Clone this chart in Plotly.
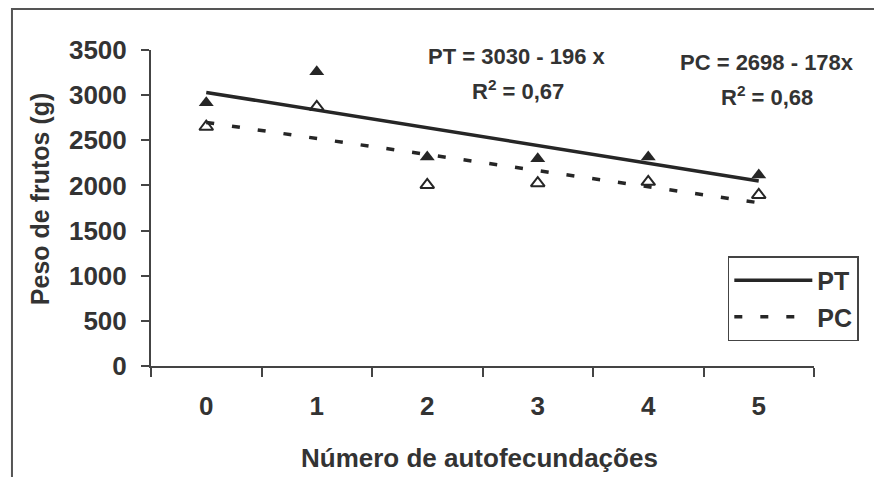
import plotly.graph_objects as go

categories = ["0", "1", "2", "3", "4", "5"]
pt_values = [2915, 3260, 2315, 2295, 2315, 2115]
pc_values = [2650, 2870, 2005, 2025, 2040, 1895]
pt_coef = (3030, -196)
pc_coef = (2698, -178)
y_ticks = [0, 500, 1000, 1500, 2000, 2500, 3000, 3500]

pt_trend = [pt_coef[0] + pt_coef[1] * i for i in range(len(categories))]
pc_trend = [pc_coef[0] + pc_coef[1] * i for i in range(len(categories))]

DARK = "#262626"
TXT = "#333333"
FONT = "Liberation Sans, Arial, sans-serif"

fig = go.Figure()
fig.add_trace(go.Scatter(x=categories, y=pt_trend, mode="lines", name="PT",
                         line=dict(color=DARK, width=3.5), legendgroup="a"))
fig.add_trace(go.Scatter(x=categories, y=pc_trend, mode="lines", name="PC",
                         line=dict(color=DARK, width=3.5, dash="8px,18px"), legendgroup="b"))
fig.add_trace(go.Scatter(x=categories, y=pt_values, mode="markers", showlegend=False,
                         marker=dict(symbol="triangle-up", size=13, color=DARK)))
fig.add_trace(go.Scatter(x=categories, y=pc_values, mode="markers", showlegend=False,
                         marker=dict(symbol="triangle-up-open", size=12, color=DARK,
                                     line=dict(width=2, color=DARK))))

fig.update_layout(
    width=874, height=469,
    margin=dict(l=143, r=68, t=42, b=111),
    paper_bgcolor="white", plot_bgcolor="white",
    font=dict(family=FONT, color=TXT, size=22, weight="bold"),
    legend=dict(x=0.870, y=0.348, xanchor="left", yanchor="top",
                bordercolor="#444444", borderwidth=1.5, bgcolor="white",
                font=dict(size=25, family=FONT, color=TXT, weight="bold"),
                itemwidth=78, tracegroupgap=1),
    showlegend=True,
)
fig.update_xaxes(type="category", range=[-0.5, 5.5], tickson="boundaries",
                 showline=True, linecolor="#444444", linewidth=2,
                 ticks="outside", ticklen=9, tickwidth=2, tickcolor="#444444",
                 showgrid=False, zeroline=False, ticklabelstandoff=16,
                 tickfont=dict(size=26, family=FONT, color=TXT, weight="bold"))
fig.update_yaxes(range=[0, 3500], tickvals=y_ticks,
                 showline=True, linecolor="#444444", linewidth=2,
                 ticks="outside", ticklen=8, tickwidth=2, tickcolor="#444444",
                 showgrid=False, zeroline=False, ticklabelstandoff=9,
                 tickfont=dict(size=26, family=FONT, color=TXT, weight="bold"))

ann = [
    dict(text="PT = 3030 - 196 x", x=0.552, y=0.978),
    dict(text="R<sup>2</sup> = 0,67", x=0.553, y=0.873),
    dict(text="PC = 2698 - 178x", x=0.929, y=0.959),
    dict(text="R<sup>2</sup> = 0,68", x=0.929, y=0.854),
]
for a in ann:
    fig.add_annotation(xref="paper", yref="paper", showarrow=False,
                       xanchor="center", yanchor="middle",
                       font=dict(size=22, family=FONT, color=TXT, weight="bold"), **a)

fig.add_annotation(text="Peso de frutos (g)", xref="paper", yref="paper",
                   x=-0.1674, y=0.528, textangle=-90, showarrow=False,
                   xanchor="center", yanchor="middle",
                   font=dict(size=25, family=FONT, color=TXT, weight="bold"))
fig.add_annotation(text="Número de autofecundações", xref="paper", yref="paper",
                   x=0.496, y=-0.291, showarrow=False,
                   xanchor="center", yanchor="middle",
                   font=dict(size=26, family=FONT, color=TXT, weight="bold"))

fig.add_shape(type="rect", xref="paper", yref="paper",
              x0=-0.2097, x1=1.098, y0=-0.45, y1=1.1297,
              line=dict(color="#555555", width=2), fillcolor="rgba(0,0,0,0)")

fig.write_html("out.html")
